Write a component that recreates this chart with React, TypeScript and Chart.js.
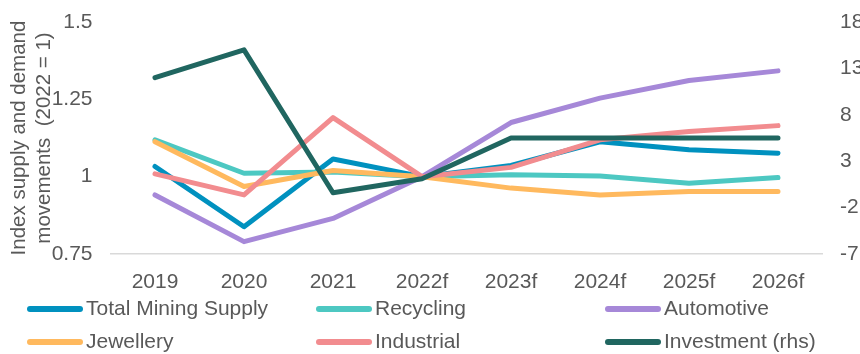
import React, { useEffect, useRef } from "react";
import { Chart, registerables } from "chart.js";

Chart.register(...registerables);

const categories = ["2019", "2020", "2021", "2022f", "2023f", "2024f", "2025f", "2026f"];
const totalMiningSupply = [1.033, 0.838, 1.057, 1.0, 1.036, 1.113, 1.087, 1.076];
const recycling = [1.119, 1.011, 1.015, 1.0, 1.006, 1.002, 0.979, 0.997];
const automotive = [0.941, 0.79, 0.865, 1.0, 1.175, 1.254, 1.311, 1.342];
const jewellery = [1.113, 0.968, 1.02, 1.0, 0.963, 0.941, 0.952, 0.952];
const industrial = [1.009, 0.941, 1.191, 1.0, 1.03, 1.119, 1.146, 1.165];
const investmentRhs = [12.0, 15.0, -0.4, 1.1, 5.5, 5.5, 5.5, 5.5];

const seriesNames = ["Total Mining Supply", "Recycling", "Automotive", "Jewellery", "Industrial", "Investment (rhs)"];
const seriesColors = ["#0091BF", "#4DC8C2", "#A688D8", "#FFB95E", "#F28C8F", "#206660"];

const FONT = "'Liberation Sans', Arial, sans-serif";
const TEXT = "#595959";

const legendPlugin = {
  id: "gridLegend",
  afterDraw(chart: any) {
    const ctx = chart.ctx;
    const colX = [27, 316, 605];
    const rowY = [309, 342];
    ctx.save();
    chart.data.datasets.forEach((ds: any, i: number) => {
      const x0 = colX[i % 3];
      const y = rowY[Math.floor(i / 3)];
      ctx.beginPath();
      ctx.strokeStyle = ds.borderColor;
      ctx.lineWidth = 6;
      ctx.lineCap = "round";
      ctx.moveTo(x0 + 3, y);
      ctx.lineTo(x0 + 53, y);
      ctx.stroke();
      ctx.fillStyle = TEXT;
      ctx.font = `21px ${FONT}`;
      ctx.textBaseline = "middle";
      ctx.textAlign = "left";
      ctx.fillText(ds.label, x0 + 59, y);
    });
    ctx.restore();
  },
};

export default function App() {
  const ref = useRef<HTMLCanvasElement | null>(null);
  useEffect(() => {
    document.body.style.margin = "0";
    const values = [totalMiningSupply, recycling, automotive, jewellery, industrial, investmentRhs];
    const chart = new Chart(ref.current as HTMLCanvasElement, {
      type: "line",
      data: {
        labels: categories,
        datasets: values.map((d, i) => ({
          label: seriesNames[i],
          data: d,
          borderColor: seriesColors[i],
          backgroundColor: seriesColors[i],
          borderWidth: 5,
          pointRadius: 0,
          pointHoverRadius: 0,
          tension: 0,
          borderCapStyle: "round" as const,
          borderJoinStyle: "round" as const,
          yAxisID: i === 5 ? "y1" : "y",
          order: 5 - i,
        })),
      },
      options: {
        animation: false,
        responsive: false,
        layout: { padding: { top: 22, bottom: 0, left: 0, right: 0 } },
        plugins: {
          legend: { display: false },
          tooltip: { enabled: false },
        },
        scales: {
          x: {
            type: "category",
            offset: true,
            grid: { display: false, drawTicks: false },
            border: { display: true, color: "#D9D9D9", width: 1.5 },
            ticks: { color: TEXT, font: { family: FONT, size: 21 }, padding: 16, maxRotation: 0, autoSkip: false },
            afterFit(scale: any) {
              scale.height = 100;
            },
          },
          y: {
            position: "left",
            min: 0.75,
            max: 1.5,
            grid: { display: false, drawTicks: false },
            border: { display: false },
            ticks: {
              stepSize: 0.25,
              color: TEXT,
              font: { family: FONT, size: 21 },
              padding: 18,
              callback: (v: any) => String(Math.round(Number(v) * 100) / 100),
            },
            title: {
              display: true,
              text: ["Index supply and demand", "movements  (2022 = 1)"],
              color: TEXT,
              font: { family: FONT, size: 20.5 },
              padding: { top: 7.5, bottom: 0 },
            },
            afterFit(scale: any) {
              scale.width = 110.5;
              scale.paddingTop = 0;
              scale.paddingBottom = 0;
            },
          },
          y1: {
            position: "right",
            min: -7,
            max: 18,
            grid: { display: false, drawTicks: false },
            border: { display: false },
            ticks: {
              stepSize: 5,
              color: TEXT,
              font: { family: FONT, size: 21 },
              padding: 17.5,
            },
            afterFit(scale: any) {
              scale.width = 37.5;
              scale.paddingTop = 0;
              scale.paddingBottom = 0;
            },
          },
        },
      },
      plugins: [legendPlugin],
    });
    return () => chart.destroy();
  }, []);
  return (
    <div style={{ width: 860, height: 354, background: "#fff" }}>
      <canvas ref={ref} width={860} height={354} style={{ display: "block" }} />
    </div>
  );
}
